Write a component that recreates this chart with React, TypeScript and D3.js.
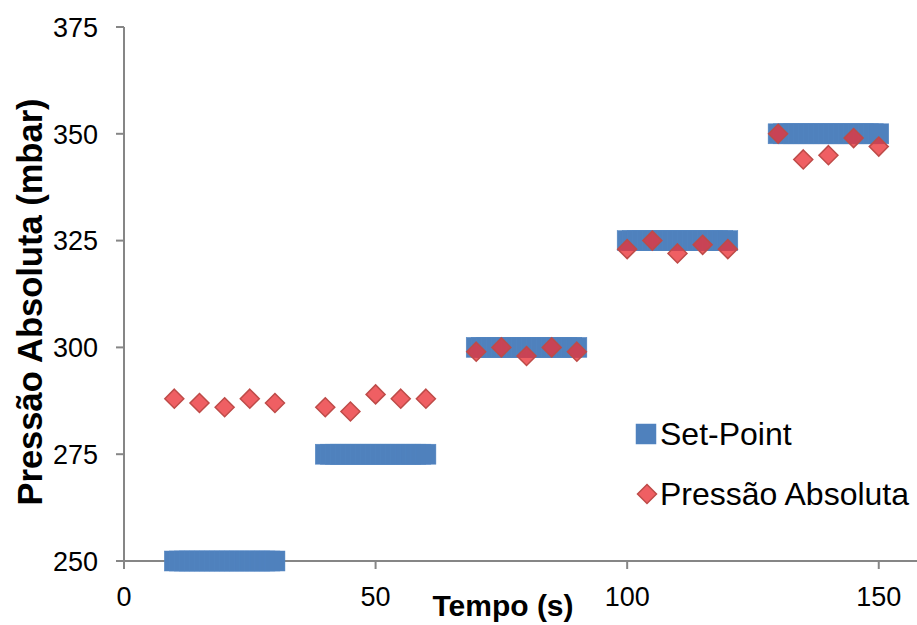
import React from "react";
import * as d3 from "d3";

const setPointGroups = [
  { start: 10, end: 30, value: 250 },
  { start: 40, end: 60, value: 275 },
  { start: 70, end: 90, value: 300 },
  { start: 100, end: 120, value: 325 },
  { start: 130, end: 150, value: 350 },
];
const pressureTimes = [10, 15, 20, 25, 30, 40, 45, 50, 55, 60, 70, 75, 80, 85, 90, 100, 105, 110, 115, 120, 130, 135, 140, 145, 150];
const pressureValues = [288, 287, 286, 288, 287, 286, 285, 289, 288, 288, 299, 300, 298, 300, 299, 323, 325, 322, 324, 323, 350, 344, 345, 349, 347];
const xTicks = [0, 50, 100, 150];
const yTicks = [250, 275, 300, 325, 350, 375];

const W = 917, H = 625;
const M = { left: 124, right: 917, top: 27, bottom: 561 };
const FONT = "'Liberation Sans', Arial, sans-serif";

export default function App() {
  const x = d3.scaleLinear().domain([0, 157.6]).range([M.left, M.right]);
  const y = d3.scaleLinear().domain([250, 375]).range([M.bottom, M.top]);

  const setPoints: { t: number; v: number }[] = [];
  setPointGroups.forEach((g) => {
    d3.range(g.start, g.end + 0.001, 1).forEach((t) => setPoints.push({ t, v: g.value }));
  });
  const diamond = (cx: number, cy: number, r: number) =>
    `M${cx},${cy - r}L${cx + r},${cy}L${cx},${cy + r}L${cx - r},${cy}Z`;
  const axisColor = "#868686";

  return (
    <svg width={W} height={H} style={{ position: "absolute", left: 0, top: 0, background: "#fff" }}>
      {/* axes */}
      <line x1={M.left} x2={M.left} y1={M.top} y2={M.bottom + 7} stroke={axisColor} strokeWidth={2} />
      <line x1={M.left} x2={M.right} y1={M.bottom} y2={M.bottom} stroke={axisColor} strokeWidth={2} />
      {yTicks.map((t) => (
        <g key={"y" + t}>
          <line x1={M.left - 8} x2={M.left} y1={y(t)} y2={y(t)} stroke={axisColor} strokeWidth={2} />
          <text x={98} y={y(t)} dy="0.36em" textAnchor="end" fontFamily={FONT} fontSize={27} fill="#000">
            {t}
          </text>
        </g>
      ))}
      {xTicks.map((t) => (
        <g key={"x" + t}>
          <line x1={x(t)} x2={x(t)} y1={M.bottom} y2={M.bottom + 8} stroke={axisColor} strokeWidth={2} />
          <text x={x(t)} y={606} textAnchor="middle" fontFamily={FONT} fontSize={27} fill="#000">
            {t}
          </text>
        </g>
      ))}
      {/* set-point markers */}
      {setPoints.map((p, i) => (
        <rect
          key={"s" + i}
          x={x(p.t) - 10}
          y={y(p.v) - 10}
          width={20}
          height={20}
          fill="#4F81BD"
          stroke="#5285C2"
          strokeWidth={0.5}
        />
      ))}
      {/* pressure markers */}
      {pressureTimes.map((t, i) => (
        <path
          key={"p" + i}
          d={diamond(x(t), y(pressureValues[i]), 9.5)}
          fill="rgb(235,50,55)"
          fillOpacity={0.78}
          stroke="#BE4B48"
          strokeWidth={1.5}
        />
      ))}
      {/* axis titles */}
      <text x={503} y={616} textAnchor="middle" fontFamily={FONT} fontSize={30} fontWeight="bold" fill="#000">
        Tempo (s)
      </text>
      <text
        transform={`translate(42,${302}) rotate(-90)`}
        textAnchor="middle"
        fontFamily={FONT}
        fontSize={34.5}
        fontWeight="bold"
        fill="#000"
      >
        Pressão Absoluta (mbar)
      </text>
      {/* legend */}
      <rect x={636} y={424} width={20} height={20} fill="#4F81BD" stroke="#5285C2" strokeWidth={0.5} />
      <text x={660} y={445} fontFamily={FONT} fontSize={32} fill="#000">
        Set-Point
      </text>
      <path d={diamond(647, 494, 9.5)} fill="rgb(235,50,55)" fillOpacity={0.78} stroke="#BE4B48" strokeWidth={1.5} />
      <text x={660} y={505} fontFamily={FONT} fontSize={32} fill="#000">
        Pressão Absoluta
      </text>
    </svg>
  );
}
